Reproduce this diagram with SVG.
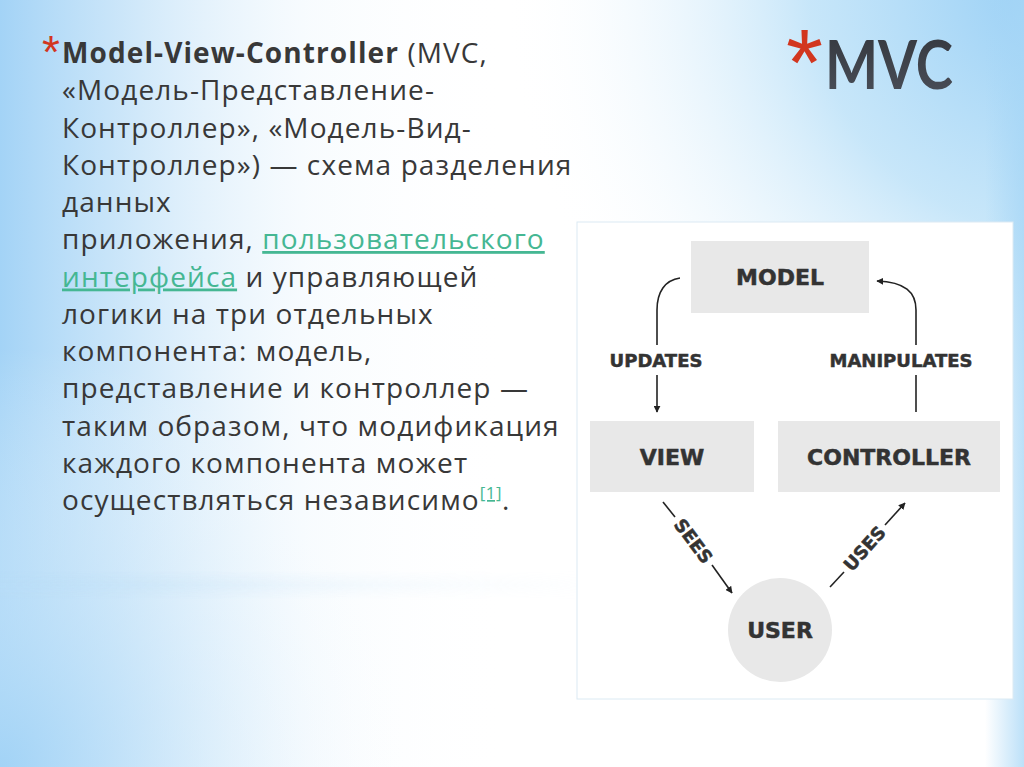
<svg xmlns="http://www.w3.org/2000/svg" width="1024" height="767" viewBox="0 0 1024 767">
<defs>
  <linearGradient id="leftBlue" x1="0" y1="0" x2="1" y2="0">
    <stop offset="0" stop-color="#a3d3f6" stop-opacity="1"/>
    <stop offset="0.12" stop-color="#bfe0f8" stop-opacity="0.8"/>
    <stop offset="0.3" stop-color="#e6f3fc" stop-opacity="0.3"/>
    <stop offset="0.5" stop-color="#ffffff" stop-opacity="0"/>
  </linearGradient>
  <linearGradient id="rightBlue" x1="0" y1="0" x2="1" y2="0">
    <stop offset="0" stop-color="#a6d6f6" stop-opacity="0"/>
    <stop offset="1" stop-color="#a6d6f6" stop-opacity="1"/>
  </linearGradient>
  <radialGradient id="trBlue" gradientUnits="userSpaceOnUse" cx="1060" cy="-20" r="560">
    <stop offset="0" stop-color="#94cdf5" stop-opacity="1"/>
    <stop offset="0.45" stop-color="#b9e0f8" stop-opacity="0.8"/>
    <stop offset="1" stop-color="#ffffff" stop-opacity="0"/>
  </radialGradient>
  <radialGradient id="blBlue" gradientUnits="userSpaceOnUse" cx="0" cy="767" r="420">
    <stop offset="0" stop-color="#a2d3f6" stop-opacity="0.9"/>
    <stop offset="1" stop-color="#ffffff" stop-opacity="0"/>
  </radialGradient>
  <linearGradient id="streak" x1="0" y1="0" x2="0" y2="1">
    <stop offset="0" stop-color="#b8dcf6" stop-opacity="0"/>
    <stop offset="0.5" stop-color="#b8dcf6" stop-opacity="0.28"/>
    <stop offset="1" stop-color="#b8dcf6" stop-opacity="0"/>
  </linearGradient>
  <linearGradient id="streakMask" x1="0" y1="0" x2="1" y2="0">
    <stop offset="0" stop-color="#fff" stop-opacity="1"/>
    <stop offset="1" stop-color="#fff" stop-opacity="0"/>
  </linearGradient>
  <mask id="fadeR">
    <rect x="0" y="560" width="620" height="50" fill="url(#streakMask)"/>
  </mask>
  <linearGradient id="mvcFill" x1="0" y1="0" x2="0" y2="1">
    <stop offset="0" stop-color="#33363c"/>
    <stop offset="1" stop-color="#4b505a"/>
  </linearGradient>
  <marker id="arr" viewBox="0 0 10 10" refX="9" refY="5" markerWidth="7" markerHeight="7" markerUnits="userSpaceOnUse" orient="auto">
    <path d="M0,0 L10,5 L0,10 z" fill="#222"/>
  </marker>
  <style>
    .body{font-family:"Open Sans","DejaVu Sans",sans-serif;font-size:28px;fill:#383838;letter-spacing:1.1px}
    .link{fill:#45b793;text-decoration:underline}
    .box{fill:#e8e8e8}
    .lbl{font-family:"DejaVu Sans",Verdana,sans-serif;font-weight:bold;fill:#333;stroke:#333;stroke-width:0.5px;text-anchor:middle}
    .node{font-size:22px}
    .edge{font-size:18px}
    .ln{fill:none;stroke:#222;stroke-width:1.6}
  </style>
</defs>

<!-- background -->
<rect x="0" y="0" width="1024" height="767" fill="#ffffff"/>
<rect x="0" y="0" width="1024" height="767" fill="url(#leftBlue)"/>
<rect x="0" y="0" width="1024" height="767" fill="url(#blBlue)"/>
<rect x="0" y="0" width="1024" height="767" fill="url(#trBlue)"/>
<rect x="985" y="0" width="39" height="767" fill="url(#rightBlue)" opacity="0.75"/>
<rect x="0" y="570" width="620" height="30" fill="url(#streak)" mask="url(#fadeR)"/>

<!-- title -->
<g id="title">
  <text x="786" y="95" font-family="'Liberation Sans',sans-serif" font-size="95" fill="#d2361f">*</text>
  <text x="825" y="89" font-family="Lato,'Open Sans',sans-serif" font-weight="bold" font-size="66" fill="url(#mvcFill)" textLength="128" lengthAdjust="spacingAndGlyphs">MVC</text>
</g>

<!-- body text -->
<g id="bodytext" class="body">
  <text x="42" y="68" font-family="'Liberation Sans',sans-serif" font-size="46" fill="#d2361f" letter-spacing="0">*</text>
  <text x="62" y="63"><tspan font-weight="bold">Model-View-Controller</tspan> (MVC,</text>
  <text x="62" y="100">«Модель-Представление-</text>
  <text x="62" y="137.5">Контроллер», «Модель-Вид-</text>
  <text x="62" y="175">Контроллер») — схема разделения</text>
  <text x="62" y="212">данных</text>
  <text x="62" y="249">приложения, <tspan class="link">пользовательского</tspan></text>
  <text x="62" y="286.5"><tspan class="link">интерфейса</tspan> и управляющей</text>
  <text x="62" y="324">логики на три отдельных</text>
  <text x="62" y="361">компонента: модель,</text>
  <text x="62" y="398">представление и контроллер —</text>
  <text x="62" y="435.5">таким образом, что модификация</text>
  <text x="62" y="473">каждого компонента может</text>
  <text x="62" y="510">осуществляться независимо<tspan class="link" font-size="17" dy="-11" letter-spacing="0.5">[1]</tspan><tspan dy="11">.</tspan></text>
</g>

<!-- diagram panel -->
<rect id="panel" x="577" y="222" width="436" height="477" fill="#ffffff" stroke="#dbeaf3" stroke-width="1"/>

<g id="model">
  <rect class="box" x="691" y="241" width="178" height="72"/>
  <text class="lbl node" x="780" y="285">MODEL</text>
</g>
<g id="view">
  <rect class="box" x="590" y="421" width="164" height="71"/>
  <text class="lbl node" x="672" y="465">VIEW</text>
</g>
<g id="controller">
  <rect class="box" x="778" y="421" width="222" height="71"/>
  <text class="lbl node" x="889" y="465">CONTROLLER</text>
</g>
<g id="user">
  <circle cx="780" cy="630" r="52" fill="#e8e8e8"/>
  <text class="lbl node" x="780" y="638">USER</text>
</g>

<g id="connectors">
  <path class="ln" d="M680,278 C665,280 657,292 657,310 L657,345"/>
  <path class="ln" d="M657,375 L657,412" marker-end="url(#arr)"/>
  <text class="lbl edge" x="656" y="367">UPDATES</text>

  <path class="ln" d="M916,412 L916,375"/>
  <path class="ln" d="M916,345 L916,310 C916,292 905,282 877,281" marker-end="url(#arr)"/>
  <text class="lbl edge" x="901" y="367">MANIPULATES</text>

  <path class="ln" d="M663,502 L675,517"/>
  <path class="ln" d="M712,565 L732,593" marker-end="url(#arr)"/>
  <text class="lbl edge" transform="translate(693.5,541) rotate(53)" x="0" y="6.5">SEES</text>

  <path class="ln" d="M830,587 L844,572"/>
  <path class="ln" d="M885,525 L905,503" marker-end="url(#arr)"/>
  <text class="lbl edge" transform="translate(864.5,548.5) rotate(-48)" x="0" y="6.5">USES</text>
</g>
</svg>
